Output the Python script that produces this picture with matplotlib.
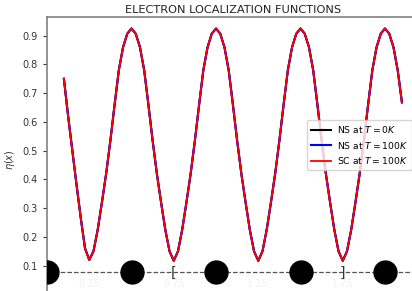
import numpy as np
import matplotlib
matplotlib.use("Agg")
import matplotlib.pyplot as plt

# positions along the chain (lattice units), sampled every 0.025
x_pos = np.linspace(0.1, 2.1, 81)

# ELF values (all three curves coincide)
rise = [0.15, 0.225, 0.32, 0.42, 0.535, 0.66, 0.78, 0.86, 0.907, 0.925]
fall = [0.907, 0.86, 0.78, 0.66, 0.535, 0.42, 0.32, 0.225, 0.15, 0.117]
elf_ns_0k = ([0.75, 0.62, 0.50, 0.38, 0.265, 0.16, 0.12]
             + rise + fall + rise + fall + rise + fall + rise
             + [0.907, 0.86, 0.78, 0.668])
elf_ns_100k = list(elf_ns_0k)
elf_sc_100k = list(elf_ns_0k)

atom_x = [0.0, 0.5, 1.0, 1.5, 2.0]
atom_y = 0.078
cell_marks = [(0.75, "["), (1.75, "]")]
faint_labels = [0.25, 0.75, 1.25, 1.75]

fig = plt.figure(figsize=(4.12, 2.91), dpi=100)
ax = fig.add_axes([47 / 412, -12 / 291, 373 / 412, 286 / 291])

ax.plot(x_pos, elf_ns_0k, color="k", lw=1.5, label=r"NS at $T = 0K$")
ax.plot(x_pos, elf_ns_100k, color="b", lw=1.5, label=r"NS at $T = 100K$")
ax.plot(x_pos, elf_sc_100k, color="r", lw=1.3, label=r"SC at $T = 100K$")

ax.axhline(atom_y, color="#555555", ls="--", lw=0.9, zorder=1)
ax.plot(atom_x, [atom_y] * len(atom_x), "o", color="k", ms=16.5, zorder=3)
for xm, s in cell_marks:
    ax.text(xm, atom_y - 0.004, s, ha="center", va="center", fontsize=10, color="#333333")
for xl in faint_labels:
    ax.text(xl, 0.035, f"{xl:g}", ha="center", va="center", fontsize=7, color="#f0f0f0")

ax.set_xlim(0, 2.207)
ax.set_ylim(-0.030, 0.965)
ax.set_xticks([])
ax.set_yticks(np.arange(0.1, 0.95, 0.1))
ax.set_yticklabels([f"{v:.1f}" for v in np.arange(0.1, 0.95, 0.1)])
ax.tick_params(axis="y", labelsize=7, colors="#333333", length=3)
for side in ["left", "top"]:
    ax.spines[side].set_color("#808080")
    ax.spines[side].set_linewidth(1.2)
for side in ["right", "bottom"]:
    ax.spines[side].set_visible(False)

ax.set_ylabel(r"$\eta(x)$", fontsize=7, color="#333333")
ax.set_title("ELECTRON LOCALIZATION FUNCTIONS", fontsize=8.2, color="#222222", pad=3)
ax.legend(loc="center left", bbox_to_anchor=(0.697, 0.552), borderaxespad=0,
          fontsize=6.7, framealpha=0.8, handlelength=2.2, handletextpad=0.6)

fig.savefig("out.png", dpi=100)
